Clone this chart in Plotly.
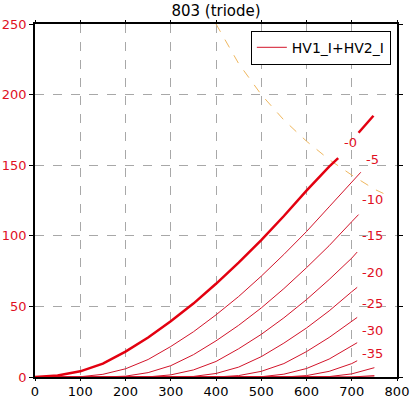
import plotly.graph_objects as go

# ---- data (plate voltage V, plate current mA) ----
V_STEP = [0, 50, 100, 150, 200, 250, 300, 350, 400, 450, 500, 550, 600, 650, 700]

G0_V = [0, 50, 100, 150, 200, 250, 300, 350, 400, 450, 500, 550, 600, 650, 670, None, 715, 748]
G0_I = [0, 1, 4, 9.5, 18, 28, 39.5, 52, 66, 81, 97, 114, 132, 149, 155, None, 173, 185]

G5_V = V_STEP + [720]
G5_I = [0, 0, 0.2, 1.9, 5.8, 12.4, 21.6, 32, 44, 57, 71.4, 86.8, 103, 120.5, 138.5, 145]

G10_V = V_STEP + [715]
G10_I = [0, 0, 0, 0, 0.6, 3.1, 8, 15.8, 25.6, 36.6, 48.9, 62.6, 77.4, 93, 110, 115]

G15_V = V_STEP + [712]
G15_I = [0, 0, 0, 0, 0, 0.1, 1.5, 5, 11, 20, 30.2, 41.9, 54.8, 69, 84.2, 88.5]

G20_V = V_STEP + [712]
G20_I = [0, 0, 0, 0, 0, 0, 0, 0.4, 2.5, 7, 14.4, 24, 34.7, 46.8, 60.4, 63.5]

G25_V = V_STEP + [712]
G25_I = [0, 0, 0, 0, 0, 0, 0, 0, 0, 1, 4, 9.5, 18, 28, 39.5, 42.2]

G30_V = V_STEP + [712]
G30_I = [0, 0, 0, 0, 0, 0, 0, 0, 0, 0, 0.2, 2, 6, 12.7, 22, 24.3]

G35_V = V_STEP + [712]
G35_I = [0, 0, 0, 0, 0, 0, 0, 0, 0, 0, 0, 0, 1, 4, 9.5, 11.5]

G40_V = V_STEP + [750]
G40_I = [0, 0, 0, 0, 0, 0, 0, 0, 0, 0, 0, 0, 0, 0.3, 2.2, 6.6]

G45_V = V_STEP + [750]
G45_I = [0, 0, 0, 0, 0, 0, 0, 0, 0, 0, 0, 0, 0, 0, 0, 1]

G50_V = V_STEP + [750]
G50_I = [0] * 16

PDISS_V = [400, 450, 500, 550, 600, 650, 700, 750, 770]
PDISS_I = [250, 222, 200, 182, 167, 154, 143, 133, 130]

GRID_LABELS = ["-0", "-5", "-10", "-15", "-20", "-25", "-30", "-35"]
LABEL_V = [697, 746, 746, 746, 746, 746, 746, 746]
LABEL_I = [166, 154, 126, 100, 74, 52, 33, 17]

X_TICKS = [0, 100, 200, 300, 400, 500, 600, 700, 800]
Y_TICKS = [0, 50, 100, 150, 200, 250]

# ---- styling ----
RED_THIN = "#d2142a"
RED_THICK = "#e30010"
LABEL_RED = "#e0101f"
FONT = "DejaVu Sans"

fig = go.Figure()

fig.add_trace(go.Scatter(x=PDISS_V, y=PDISS_I, mode="lines",
                         line=dict(color="#efb75e", width=1, dash="dash"),
                         showlegend=False, hoverinfo="skip"))

thin_curves = [(G5_V, G5_I), (G10_V, G10_I), (G15_V, G15_I), (G20_V, G20_I),
               (G25_V, G25_I), (G30_V, G30_I), (G35_V, G35_I), (G40_V, G40_I),
               (G45_V, G45_I), (G50_V, G50_I)]
for i, (vx, iy) in enumerate(thin_curves):
    fig.add_trace(go.Scatter(x=vx, y=iy, mode="lines",
                             line=dict(color=RED_THIN, width=1),
                             name="HV1_I+HV2_I", showlegend=(i == 0)))

fig.add_trace(go.Scatter(x=G0_V, y=G0_I, mode="lines",
                         line=dict(color=RED_THICK, width=2.5),
                         showlegend=False, connectgaps=False))

for txt, vx, iy in zip(GRID_LABELS, LABEL_V, LABEL_I):
    fig.add_annotation(x=vx, y=iy, text=txt, showarrow=False,
                       font=dict(family=FONT, size=13, color=LABEL_RED),
                       xanchor="center", yanchor="middle")

fig.update_layout(
    width=412, height=398,
    margin=dict(l=35, r=15, t=24, b=21, autoexpand=False),
    paper_bgcolor="white", plot_bgcolor="white",
    font=dict(family=FONT, size=13, color="black"),
    title=dict(text="803 (triode)", x=0.5, xref="paper", xanchor="center",
               y=0.972, yref="container", yanchor="middle",
               font=dict(family=FONT, size=15, color="black")),
    showlegend=True,
    legend=dict(x=0.983, y=0.981, xanchor="right", yanchor="top",
                bgcolor="white", bordercolor="black", borderwidth=1,
                font=dict(family=FONT, size=14, color="black"),
                itemwidth=30, tracegroupgap=0),
)

fig.update_xaxes(range=[0, 800], tickvals=X_TICKS, ticktext=[str(v) for v in X_TICKS],
                 automargin=False,
                 showline=True, linecolor="black", linewidth=1.5, mirror="ticks",
                 ticks="outside", ticklen=2, tickcolor="black",
                 showgrid=True, gridcolor="#a8a8a8", griddash="dash", gridwidth=1,
                 zeroline=False, tickfont=dict(family=FONT, size=13, color="black"))
fig.update_yaxes(range=[0, 250], tickvals=Y_TICKS, ticktext=[str(v) for v in Y_TICKS],
                 automargin=False,
                 showline=True, linecolor="black", linewidth=1.5, mirror="ticks",
                 ticks="outside", ticklen=4, tickcolor="black",
                 showgrid=True, gridcolor="#a8a8a8", griddash="dash", gridwidth=1,
                 zeroline=False, tickfont=dict(family=FONT, size=13, color=LABEL_RED))

fig.write_html("out.html", config={"displayModeBar": False},
               post_script="document.body.style.margin='0';")
